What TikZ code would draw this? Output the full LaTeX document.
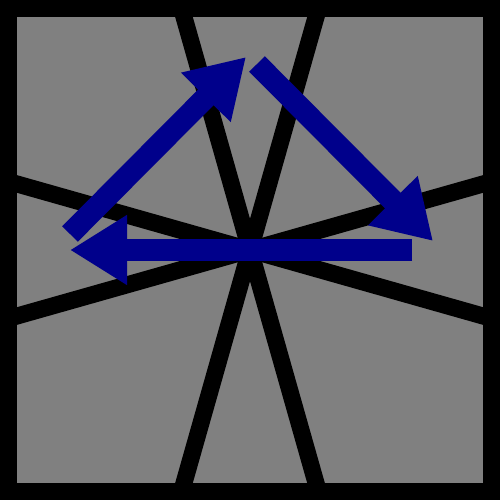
\documentclass[tikz,border=0pt]{standalone}
\usetikzlibrary{arrows.meta}
\definecolor{arrowblue}{RGB}{0,0,139}
\definecolor{panelgray}{RGB}{128,128,128}
\tikzset{
  spoke/.style={line width=17pt, black},
  bigarrow/.style={line width=22pt, arrowblue, -{Triangle[length=57pt,width=66pt]}}
}
\begin{document}
\begin{tikzpicture}[x=1pt,y=-1pt]
\useasboundingbox (0,0) rectangle (500,500);
\fill[black] (0,0) rectangle (500,500);
\fill[panelgray] (17,17) rectangle (483,483);
\coordinate (t1) at (182,10); \coordinate (b1) at (318,490);
\coordinate (t2) at (318,10); \coordinate (b2) at (182,490);
\coordinate (l1) at (10,182); \coordinate (r1) at (490,318);
\coordinate (l2) at (10,318); \coordinate (r2) at (490,182);
\begin{scope}
\clip (17,17) rectangle (483,483);
\draw[spoke] (t1) -- (b1);
\draw[spoke] (t2) -- (b2);
\draw[spoke] (l1) -- (r1);
\draw[spoke] (l2) -- (r2);
\end{scope}
\coordinate (a1s) at (70,234); \coordinate (a1e) at (246,57);
\coordinate (a2s) at (257,64); \coordinate (a2e) at (433,241);
\coordinate (a3s) at (412,250); \coordinate (a3e) at (70,250);
\draw[bigarrow] (a1s) -- (a1e);
\draw[bigarrow] (a2s) -- (a2e);
\draw[bigarrow] (a3s) -- (a3e);
\end{tikzpicture}
\end{document}
